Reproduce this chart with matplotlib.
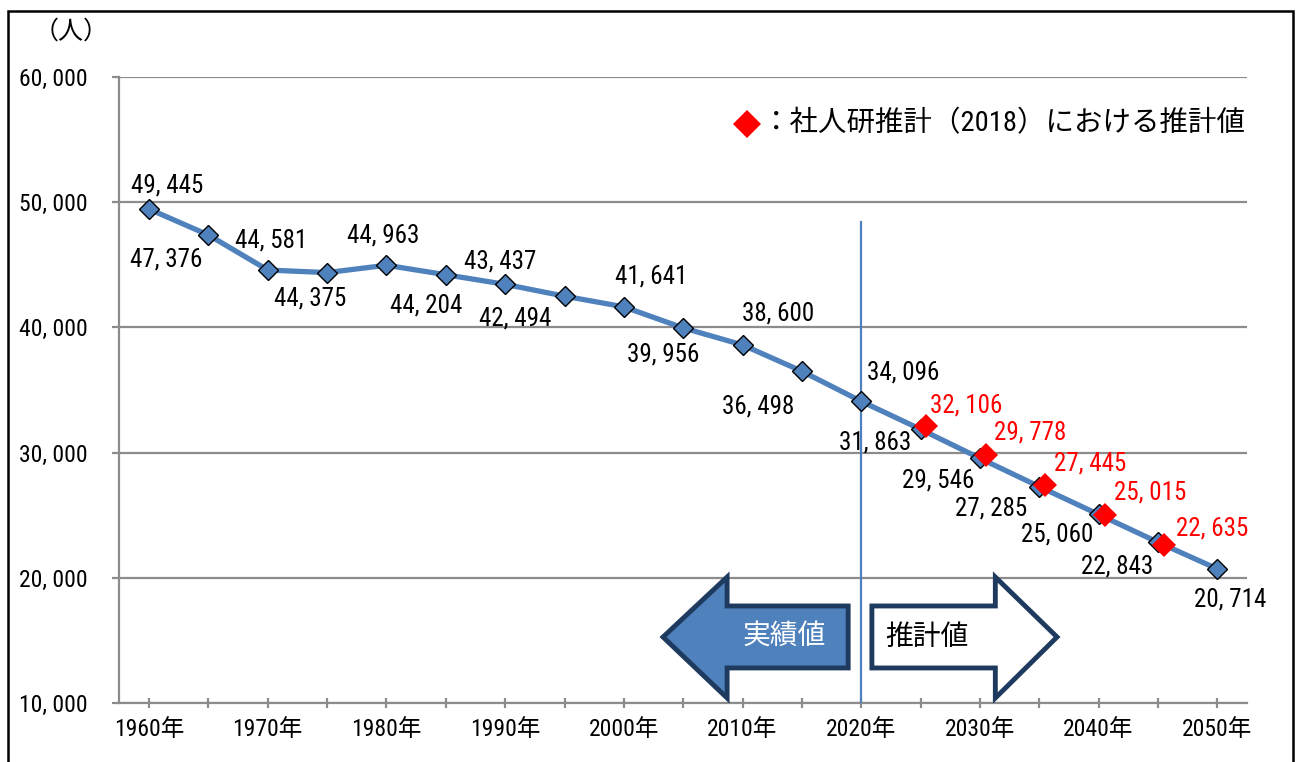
import matplotlib
matplotlib.use("Agg")
import matplotlib.pyplot as plt
from matplotlib.patches import Polygon, Rectangle

plt.rcParams['font.family'] = ['Roboto Condensed', 'Noto Sans CJK JP', 'DejaVu Sans']

# population by year (people)
years = [1960, 1965, 1970, 1975, 1980, 1985, 1990, 1995, 2000, 2005,
         2010, 2015, 2020, 2025, 2030, 2035, 2040, 2045, 2050]
population = [49445, 47376, 44581, 44375, 44963, 44204, 43437, 42494, 41641, 39956,
              38600, 36498, 34096, 31863, 29546, 27285, 25060, 22843, 20714]

# IPSS (2018) projection
ipss_years = [2025, 2030, 2035, 2040, 2045]
ipss_population = [32106, 29778, 27445, 25015, 22635]

tick_years = [1960, 1970, 1980, 1990, 2000, 2010, 2020, 2030, 2040, 2050]
tick_labels = [f"{y}年" for y in tick_years]
y_ticks = [10000, 20000, 30000, 40000, 50000, 60000]

# label offsets in pixels (dx, dy) for each point
label_offsets = [(18, 24), (-42, -24), (3, 30), (-17, -26), (-3, 30), (-20, -31),
                 (-5, 23), (-49, -22), (27, 30), (-20, -27), (36, 31), (-44, -35),
                 (42, 29), (-45, -13), (-42, -22), (-48, -22), (-41, -20), (-41, -24),
                 (13, -31)]
ipss_offsets = [(40, 21), (44, 23), (45, 21), (46, 23), (48, 16)]

fmt = lambda v: f"{v:,}".replace(",", ", ")

fig = plt.figure(figsize=(12.97, 7.62), dpi=100)
ax = fig.add_axes([0.0921, 0.0774, 0.8693, 0.8216])

blue = '#4F81BD'
navy = '#1F3A5F'

ax.plot(years, population, color=blue, lw=3.8, marker='D', markersize=10.5,
        markerfacecolor=blue, markeredgecolor='black', markeredgewidth=1.0, zorder=4)
ax.plot([y + 0.5 for y in ipss_years], ipss_population, linestyle='none', marker='D',
        markersize=12, color='red', markeredgewidth=0, zorder=5)

for x, v, (dx, dy) in zip(years, population, label_offsets):
    ax.annotate(fmt(v), (x, v), xytext=(dx, dy), textcoords='offset pixels',
                ha='center', va='center', fontsize=18, color='black')
for x, v, (dx, dy) in zip(ipss_years, ipss_population, ipss_offsets):
    ax.annotate(fmt(v), (x + 0.5, v), xytext=(dx, dy), textcoords='offset pixels',
                ha='center', va='center', fontsize=18, color='red')

# boundary between actual and projected
ax.plot([2020, 2020], [10000, 48400], color=blue, lw=1.6, zorder=3)

# arrows
left_arrow = [(2003.3, 15270), (2008.7, 20060), (2008.7, 17750), (2018.9, 17750),
              (2018.9, 12800), (2008.7, 12800), (2008.7, 10400)]
right_arrow = [(2036.5, 15270), (2031.3, 20060), (2031.3, 17750), (2020.9, 17750),
               (2020.9, 12800), (2031.3, 12800), (2031.3, 10400)]
ax.add_patch(Polygon(left_arrow, closed=True, facecolor=blue, edgecolor=navy,
                     lw=3.5, joinstyle='miter', zorder=3))
ax.add_patch(Polygon(right_arrow, closed=True, facecolor='white', edgecolor=navy,
                     lw=3.5, joinstyle='miter', zorder=3))
ax.text(2013.5, 15270, '実績値', color='white', fontsize=20, ha='center', va='center', zorder=6)
ax.text(2025.5, 15270, '推計値', color='black', fontsize=20, ha='center', va='center', zorder=6)

# legend note
ax.plot([2010.4], [56260], marker='D', markersize=14, color='red', markeredgewidth=0,
        clip_on=False)
ax.text(2011.6, 56260, '：社人研推計（2018）における推計値', fontsize=20.5, ha='left', va='center')

ax.set_xlim(1957.5, 2052.5)
ax.set_ylim(10000, 60000)
ax.set_yticks(y_ticks)
ax.set_yticklabels([fmt(v) for v in y_ticks], fontsize=17)
ax.set_xticks(tick_years)
ax.set_xticklabels(tick_labels, fontsize=17)
ax.set_xticks(list(range(1965, 2050, 10)), minor=True)
ax.yaxis.grid(True, color='#8C8C8C', lw=1.6)
ax.set_axisbelow(True)
for s in ['top', 'right']:
    ax.spines[s].set_visible(False)
for s in ['left', 'bottom']:
    ax.spines[s].set_color('#8C8C8C')
    ax.spines[s].set_linewidth(1.6)
ax.tick_params(axis='y', length=5, width=1.6, color='#8C8C8C', pad=18)
ax.tick_params(axis='x', which='both', direction='inout', length=7, width=1.6,
               color='#8C8C8C', pad=7)

fig.text(0.055, 0.958, '（人）', fontsize=18, ha='center', va='center')

# outer frame
fig.patches.append(Rectangle((0.0065, -0.05), 0.9905, 1.036, transform=fig.transFigure,
                             fill=False, edgecolor='black', lw=1.8))

fig.savefig('out.png', dpi=100)
